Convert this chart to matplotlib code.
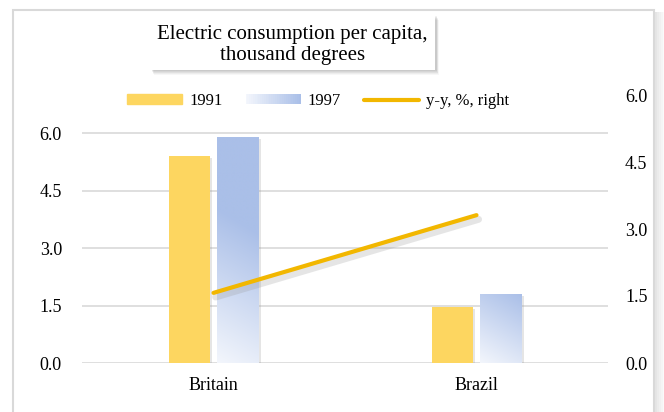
import numpy as np
import matplotlib
matplotlib.use("Agg")
import matplotlib.pyplot as plt
import matplotlib.patches as mpatches
import matplotlib.patheffects as pe
from matplotlib.lines import Line2D
from matplotlib.legend_handler import HandlerBase
from matplotlib.colors import LinearSegmentedColormap

# ---- data ----
categories = ["Britain", "Brazil"]
vals_1991 = [5.4, 1.47]
vals_1997 = [5.9, 1.8]
yy_right = [1.57, 3.31]
left_ticks = [0.0, 1.5, 3.0, 4.5, 6.0]
right_ticks = [0.0, 1.5, 3.0, 4.5, 6.0]
title_text = "Electric consumption per capita,\nthousand degrees"
series_names = ["1991", "1997", "y-y, %, right"]

YELLOW = "#FDD660"
BLUE = "#AABFE8"
BLUE_LIGHT = "#F3F6FC"
LINE = "#F2B700"
GRID = "#D9D9D9"

plt.rcParams["font.family"] = ["Liberation Serif", "DejaVu Serif"]
W, H = 664, 412
fig = plt.figure(figsize=(W / 100, H / 100), dpi=100)
fig.patch.set_facecolor("white")

def fx(px):
    return px / W

def fy(py):
    return 1 - py / H

PT = 0.72  # pixels -> points

# outer frame with right shadow
for i, a in enumerate([0.10, 0.08, 0.06, 0.04, 0.02]):
    fig.add_artist(mpatches.Rectangle((fx(655 + i * 2), 0), fx(2), fy(12), transform=fig.transFigure,
                                      fc="black", ec="none", alpha=a, zorder=0))
fig.add_artist(mpatches.Rectangle((fx(13), fy(430)), fx(641), fy(10) - fy(430), transform=fig.transFigure,
                                  fc="white", ec=GRID, lw=1.5, zorder=0.5))

ax_l, ax_r, ax_t, ax_b = 82, 608, 95, 363
ax = fig.add_axes([fx(ax_l), fy(ax_b), fx(ax_r - ax_l), fy(ax_t) - fy(ax_b)])
ax.set_facecolor("none")
ax.set_zorder(2)
ax2 = ax.twinx()
ax2.set_zorder(3)

x = np.arange(len(categories))
off = 0.093
bw = 0.156
shadow = [pe.SimplePatchShadow(offset=(2, -1.5), shadow_rgbFace="#999999", alpha=0.25), pe.Normal()]
b1 = ax.bar(x - off, vals_1991, bw, color=YELLOW, zorder=3)
b2 = ax.bar(x + off, vals_1997, bw, color="none", zorder=3)
for r in list(b1) + list(b2):
    r.set_path_effects(shadow)

cmap = LinearSegmentedColormap.from_list("g", [BLUE_LIGHT, BLUE])
n = 200
u = np.linspace(0, 1, n)[None, :]
v = np.linspace(0, 1, n)[:, None]
for r in b2:
    x0, y0 = r.get_x(), r.get_y()
    w, h = r.get_width(), r.get_height()
    hpx = h / 7.0 * (ax_b - ax_t)
    wpx = 42.0
    t = (u * wpx * 0.6 + v * hpx) / (wpx * 0.6 + min(hpx, 130))
    t = np.clip(t, 0, 1)
    im = ax.imshow(t, extent=(x0, x0 + w, y0, y0 + h), origin="lower", cmap=cmap,
                   vmin=0, vmax=1, aspect="auto", zorder=3.5, interpolation="bilinear")
    im.set_clip_path(r)

ax.set_xlim(-0.5, 1.5)
ax.set_ylim(0, 7)
ax.set_yticks(left_ticks)
ax.set_yticklabels([f"{t:.1f}" for t in left_ticks])
ax.set_xticks(x)
ax.set_xticklabels(categories)
ax.grid(axis="y", color=GRID, lw=1.2, zorder=0)
ax.set_axisbelow(True)
for s in ax.spines.values():
    s.set_visible(False)
ax.tick_params(axis="y", length=0, pad=20 * PT, labelsize=13)
ax.tick_params(axis="x", length=0, pad=10, labelsize=13)

ax2.plot(x, yy_right, color=LINE, lw=3, solid_capstyle="round", zorder=5,
         path_effects=[pe.SimpleLineShadow(offset=(1.5, -3), shadow_color="#999999", alpha=0.25, linewidth=5),
                       pe.Normal()])
ax2.set_ylim(0, 6)
ax2.set_yticks(right_ticks)
ax2.set_yticklabels([f"{t:.1f}" for t in right_ticks])
for s in ax2.spines.values():
    s.set_visible(False)
ax2.tick_params(axis="y", length=0, pad=17 * PT, labelsize=13)
ax.set_xlim(-0.5, 1.5)

# legend
class GradHandler(HandlerBase):
    def create_artists(self, legend, orig_handle, xdescent, ydescent, width, height, fontsize, trans):
        arts = []
        k = 30
        for i in range(k):
            c = cmap(i / (k - 1))
            arts.append(mpatches.Rectangle((-xdescent + width * i / k, -ydescent), width / k + 0.3, height,
                                           fc=c, ec="none", transform=trans))
        return arts

h1 = mpatches.Patch(color=YELLOW)
h2 = mpatches.Patch(color=BLUE)
h3 = Line2D([], [], color=LINE, lw=3, solid_capstyle="round")
leg = fig.legend([h1, h2, h3], series_names, loc="center", bbox_to_anchor=(fx(318), fy(101)), ncol=3,
                 frameon=False, fontsize=12, handlelength=3.3, handleheight=0.5, handletextpad=0.4,
                 columnspacing=1.4, handler_map={h2: GradHandler()})

# title box with shadow
bx0, by0, bx1, by1 = 150, 15, 435, 70
for i, a in enumerate([0.05, 0.05, 0.05, 0.04, 0.03]):
    d = i + 1
    fig.add_artist(mpatches.Rectangle((fx(bx0 + 1 + d * 0.6), fy(by1 + d)), fx(bx1 - bx0), fy(by0) - fy(by1),
                                      transform=fig.transFigure, fc="black", ec="none", alpha=a, zorder=6))
fig.add_artist(mpatches.Rectangle((fx(bx0), fy(by1)), fx(bx1 - bx0), fy(by0) - fy(by1),
                                  transform=fig.transFigure, fc="white", ec="none", zorder=7))
fig.text(fx((bx0 + bx1) / 2), fy(45), title_text, ha="center", va="center",
         fontsize=15, linespacing=1.2, zorder=8)

fig.savefig("out.png", dpi=100, facecolor="white")
